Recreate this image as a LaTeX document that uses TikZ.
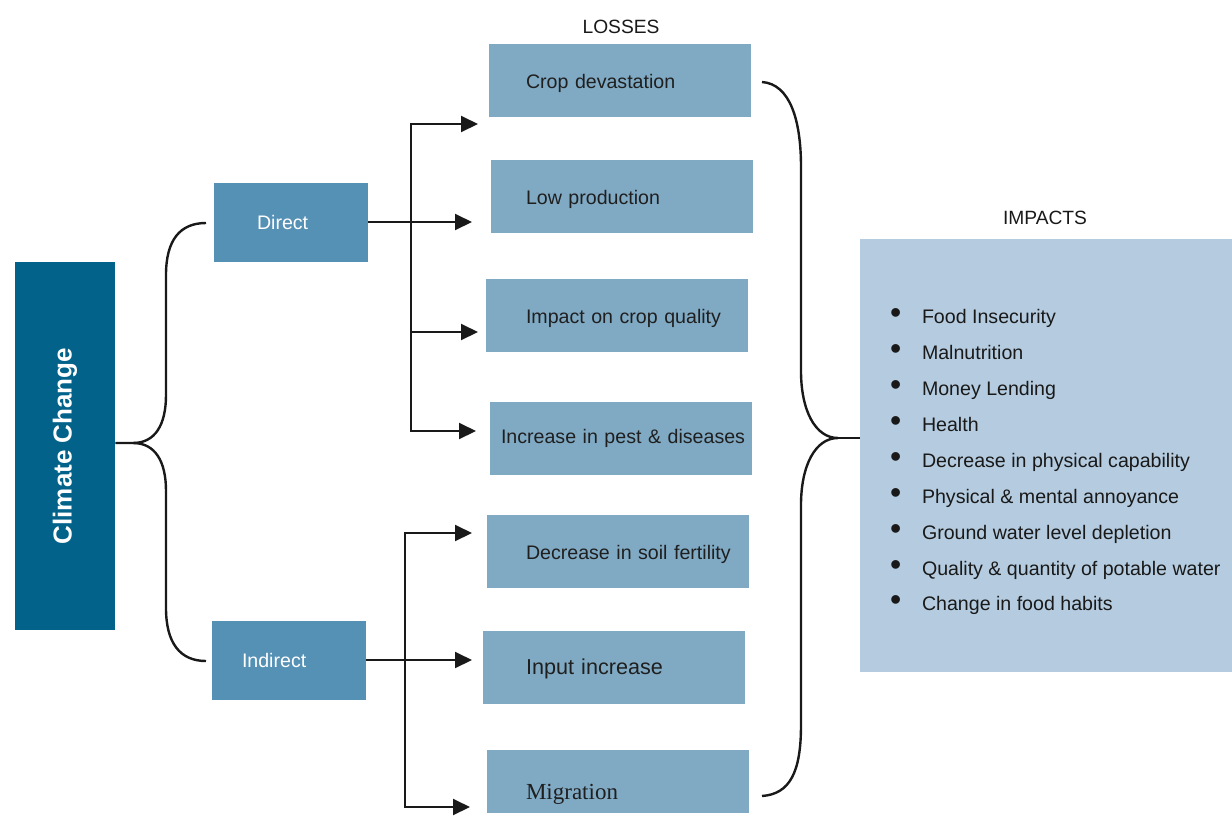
\documentclass[tikz,border=0pt]{standalone}
\usepackage{fontspec}
\setmainfont{Liberation Sans}
\newfontfamily\serifface{Liberation Serif}
\usetikzlibrary{arrows.meta,positioning,calc}
\definecolor{deepteal}{HTML}{02628A}
\definecolor{midblue}{HTML}{5590B5}
\definecolor{lossblue}{HTML}{80AAC4}
\definecolor{impactblue}{HTML}{B5CCE0}
\newcommand{\impitem}[1]{\makebox[16pt][l]{\fontsize{16}{0}\selectfont\textbullet}#1}

\begin{document}
\begin{tikzpicture}[x=0.5pt, y=-0.5pt,
  mainbox/.style={rectangle, fill=deepteal, text=white, rotate=90, minimum width=184pt, minimum height=50pt, font=\fontsize{13}{15}\selectfont\bfseries},
  causebox/.style={rectangle, fill=midblue, text=white, minimum width=77pt, minimum height=39.5pt, text width=77pt, inner xsep=0pt, align=left,
    font=\fontsize{9.8}{12}\selectfont, execute at begin node={\hspace*{#1}}},
  lossbox/.style={rectangle, fill=lossblue, text=black!88, minimum width=131pt, minimum height=36.5pt, text width=131pt, inner xsep=0pt, align=left,
    text height=7.6pt, text depth=0pt, font=\fontsize{9.8}{12}\selectfont, execute at begin node={\hspace*{#1}}},
  lossbox/.default=18.5pt,
  impactbox/.style={rectangle, fill=impactblue, minimum width=186pt, minimum height=216.5pt},
  listtext/.style={align=left, inner sep=0pt, text=black!90, font=\fontsize{9.8}{17.95}\selectfont},
  heading/.style={font=\fontsize{9.6}{12}\selectfont, text=black!90},
  brace/.style={line width=1.2pt, black!90},
  arr/.style={-{Triangle[length=8.5pt, width=8pt]}, line width=1pt, black!90}
]
  \useasboundingbox (0,0) rectangle (1232,815);

  % boxes
  \node[mainbox] (climate) at (65,446) {Climate Change};
  \node[causebox=21.5pt] (direct) at (291,222) {Direct};
  \node[causebox=15pt] (indirect) at (289,660) {Indirect};

  \node[heading] (losses) at (621,27) {LOSSES};
  \node[lossbox] (crop) at (620,80.5) {Crop devastation};
  \node[lossbox=17.5pt] (low) at (622,196.5) {Low production};
  \node[lossbox=20pt] (quality) at (617,315.5) {Impact on crop quality};
  \node[lossbox=5.5pt, text height=5pt] (pest) at (621,438) {Increase in pest \& diseases};
  \node[lossbox=19.5pt] (soil) at (618,551.5) {Decrease in soil fertility};
  \node[lossbox=21.5pt, font=\fontsize{10.8}{13}\selectfont] (input) at (614,667) {Input increase};
  \node[lossbox=19.5pt, minimum height=31.5pt, text height=18pt, font=\serifface\fontsize{11.5}{14}\selectfont] (migration) at (618,781.5) {Migration};

  \node[heading] (impacthead) at (1045,218) {IMPACTS};
  \node[impactbox] (impacts) at (1046,455.5) {};
  \node[listtext, anchor=west] (impactlist) at ([xshift=15pt, yshift=-3.2pt]impacts.west) {%
    \impitem{Food Insecurity}\\
    \impitem{Malnutrition}\\
    \impitem{Money Lending}\\
    \impitem{Health}\\
    \impitem{Decrease in physical capability}\\
    \impitem{Physical \& mental annoyance}\\
    \impitem{Ground water level depletion}\\
    \impitem{Quality \& quantity of potable water}\\
    \impitem{Change in food habits}};

  % left brace
  \coordinate (lb) at (133,443);
  \coordinate (ltop) at (206,223);
  \coordinate (lbot) at (206,661);
  \draw[brace] (climate.south |- lb) -- (lb) .. controls (155,443) and (166,425) .. (166,395) -- (166,275)
    .. controls (166,240) and (180,223) .. (ltop);
  \draw[brace] (lb) .. controls (155,443) and (166,461) .. (166,491) -- (166,608)
    .. controls (166,643) and (180,661) .. (lbot);

  % right brace
  \coordinate (rtop) at (762,82);
  \coordinate (rbot) at (762,796);
  \coordinate (rtip) at (838,438);
  \draw[brace] (rtop) .. controls (790,84) and (801,120) .. (801,167) -- (801,371)
    .. controls (801,410) and (815,438) .. (rtip)
    .. controls (815,438) and (801,466) .. (801,505) -- (801,725)
    .. controls (801,772) and (790,794) .. (rbot);
  \draw[brace, line width=0.6pt] (rtip) -- (impacts.west |- rtip);

  % direct losses
  \coordinate (dj) at (411,332);
  \coordinate (tcrop) at (478,124);
  \coordinate (tlow) at (472,222);
  \coordinate (tquality) at (478,332);
  \coordinate (tpest) at (476,431);
  \draw[arr] (direct) -- (tlow);
  \draw[arr] (dj) |- (tcrop);
  \draw[arr] (dj) -- (tquality);
  \draw[arr] (dj) |- (tpest);

  % indirect losses
  \coordinate (ij) at (405,660);
  \coordinate (tsoil) at (472,533);
  \coordinate (tinput) at (472,660);
  \coordinate (tmig) at (470,807);
  \draw[arr] (indirect) -- (tinput);
  \draw[arr] (ij) |- (tsoil);
  \draw[arr] (ij) |- (tmig);
\end{tikzpicture}
\end{document}
